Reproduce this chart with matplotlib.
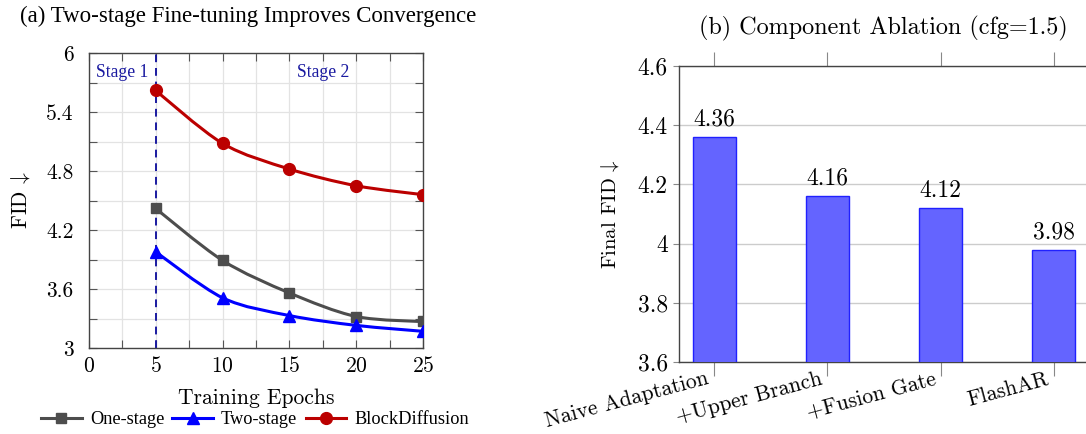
import matplotlib
matplotlib.use('Agg')
import matplotlib.pyplot as plt
import matplotlib.transforms as mtransforms
import numpy as np
from matplotlib.path import Path
from matplotlib.patches import PathPatch
from matplotlib.lines import Line2D
from matplotlib.ticker import MultipleLocator, FuncFormatter

plt.rcParams['font.family'] = 'cmr10'
plt.rcParams['mathtext.fontset'] = 'cm'
plt.rcParams['axes.formatter.use_mathtext'] = True

# (a) convergence data
epochs = [5, 10, 15, 20, 25]
one_stage = [4.42, 3.89, 3.56, 3.32, 3.27]
two_stage = [3.98, 3.51, 3.33, 3.23, 3.17]
block_diffusion = [5.62, 5.08, 4.82, 4.65, 4.56]

# (b) ablation data
components = ['Naive Adaptation', '+Upper Branch', '+Fusion Gate', 'FlashAR']
final_fid = [4.36, 4.16, 4.12, 3.98]

times = 'Liberation Serif'
gray = '#4d4d4d'
blue = '#0000ff'
red = '#bb0000'
navy = '#1a1aa0'


def smooth_path(x, y, tension=0.55):
	# bezier path in the style of tikz "smooth"
	p = np.column_stack([x, y]).astype(float)
	n = len(p)
	f = 0.2775 * tension
	verts = [p[0]]
	codes = [Path.MOVETO]
	for i in range(n - 1):
		d0 = p[i + 1] - p[i - 1] if i > 0 else np.zeros(2)
		d1 = p[i + 2] - p[i] if i + 2 < n else np.zeros(2)
		verts += [p[i] + f * d0, p[i + 1] - f * d1, p[i + 1]]
		codes += [Path.CURVE4] * 3
	return Path(verts, codes)


fmt = FuncFormatter(lambda v, p: '%g' % round(v, 2))

fig = plt.figure(figsize=(10.86, 4.34), dpi=100)

# ---- left panel
ax1 = fig.add_axes([89 / 1086, 86 / 434, 334 / 1086, 295 / 434])
ax1.set_xlim(0, 25)
ax1.set_ylim(3, 6)
ax1.xaxis.set_major_locator(MultipleLocator(5))
ax1.xaxis.set_minor_locator(MultipleLocator(2.5))
ax1.yaxis.set_major_locator(MultipleLocator(0.6))
ax1.yaxis.set_minor_locator(MultipleLocator(0.3))
ax1.yaxis.set_major_formatter(fmt)
ax1.grid(True, which='both', color='#e3e3e3', linewidth=0.9)
ax1.set_axisbelow(True)
ax1.tick_params(which='both', direction='in', top=True, right=True, color='#555555',
				labelsize=15.5, width=0.8, length=6)
ax1.tick_params(axis='x', pad=6)
ax1.tick_params(axis='y', pad=11)
for s in ax1.spines.values():
	s.set_color('#444444')
	s.set_linewidth(1.0)

ax1.axvline(5, color=navy, linestyle=(0, (4, 3)), linewidth=1.4, zorder=2)

series = [
	(one_stage, gray, 's', 7.5, 'One-stage'),
	(two_stage, blue, '^', 8, 'Two-stage'),
	(block_diffusion, red, 'o', 8.5, 'BlockDiffusion'),
]
handles = []
for vals, c, m, ms, lab in series:
	ax1.add_patch(PathPatch(smooth_path(epochs, vals), fill=False, edgecolor=c,
							linewidth=2.2, zorder=3))
	ax1.plot(epochs, vals, linestyle='none', marker=m, markersize=ms, color=c, zorder=4)
	handles.append(Line2D([], [], color=c, linewidth=2.2, marker=m, markersize=ms, label=lab))

ax1.text(2.5, 5.8, 'Stage 1', color=navy, fontfamily=times, fontsize=12.7,
		 ha='center', va='center')
ax1.text(17.5, 5.8, 'Stage 2', color=navy, fontfamily=times, fontsize=12.7,
		 ha='center', va='center')

ax1.set_xlabel('Training Epochs', fontsize=15.5, labelpad=9)
ax1.set_ylabel(r'FID$\,\downarrow$', fontsize=15.5, labelpad=10)

fig.text(20 / 1086, 1 - 16 / 434, '(a) Two-stage Fine-tuning Improves Convergence',
		 fontfamily=times, fontsize=16.5, ha='left', va='center')

fig.legend(handles=handles, loc='center', bbox_to_anchor=(255 / 1086, 14 / 434), ncol=3,
		   frameon=False, prop={'family': times, 'size': 13.2}, handlelength=2.2,
		   columnspacing=0.45, handletextpad=0.45, borderpad=0)

# ---- right panel
ax2 = fig.add_axes([679 / 1086, 72 / 434, 410 / 1086, 296 / 434])
xpos = np.arange(len(components))
ax2.bar(xpos, final_fid, width=0.38, color='#6464ff', edgecolor='#2020ff', linewidth=1.0,
		zorder=3)
for xi, v in zip(xpos, final_fid):
	ax2.text(xi, v + 0.022, '%.2f' % v, ha='center', va='bottom', fontsize=17)
ax2.set_xlim(-0.31, 3.31)
ax2.set_ylim(3.6, 4.6)
ax2.yaxis.set_major_locator(MultipleLocator(0.2))
ax2.yaxis.set_major_formatter(fmt)
ax2.set_xticks(xpos)
ax2.set_xticklabels([])
ax2.grid(True, axis='y', color='#cccccc', linewidth=1.0)
ax2.set_axisbelow(True)
ax2.tick_params(axis='x', direction='out', top=True, length=10, color='#888888', width=0.8)
ax2.tick_params(axis='y', direction='out', length=4, color='#888888', labelsize=17, pad=4)
for s in ax2.spines.values():
	s.set_color('#444444')
	s.set_linewidth(1.0)
ax2.set_ylabel(r'Final FID$\,\downarrow$', fontsize=15, labelpad=12)

# rotated category labels, anchored at their upper right corner below each tick
shift = mtransforms.ScaledTranslation(-8 / 100, -7 / 100, fig.dpi_scale_trans)
for xi, name in zip(xpos, components):
	ax2.text(xi, 0, name, transform=ax2.get_xaxis_transform() + shift, fontsize=15.5,
			 rotation=15, rotation_mode='anchor', ha='right', va='top')

fig.text(883 / 1086, 1 - 28 / 434, '(b) Component Ablation (cfg=1.5)', fontsize=17.4,
		 ha='center', va='center')

fig.savefig('out.png', dpi=100)
